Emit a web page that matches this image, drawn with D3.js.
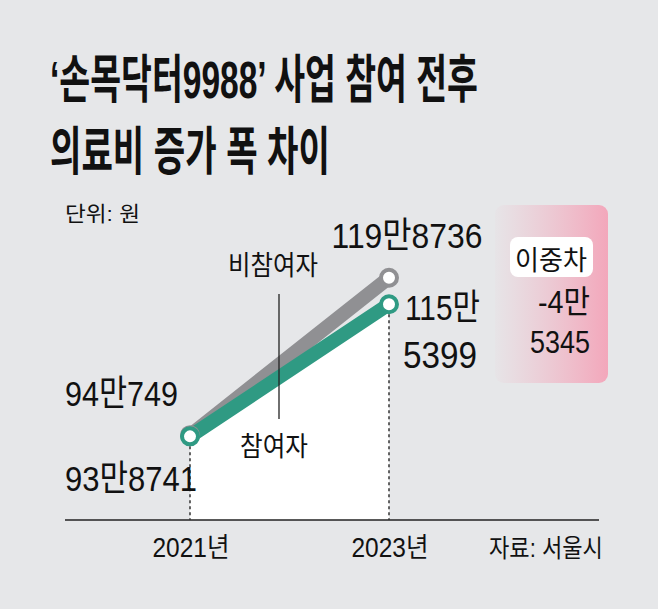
<!DOCTYPE html>
<html>
<head>
<meta charset="utf-8">
<script src="https://cdn.jsdelivr.net/npm/d3@7"></script>
<style>
  html, body { margin: 0; padding: 0; background: #e6e7e9; }
  svg { display: block; }
  text { font-family: "Liberation Sans", "Noto Sans CJK KR", sans-serif; fill: #111; }
</style>
</head>
<body>
<svg width="658" height="609"></svg>
<script>
let years = ["2021년", "2023년"],
    nonPart = [940749, 1198736],
    part = [938741, 1155399];

let nonPartLabels = [["94만749"], ["119만8736"]],
    partLabels = [["93만8741"], ["115만", "5399"]],
    diffLabels = ["-4만", "5345"];

let titleLines = ["‘손목닥터9988’ 사업 참여 전후", "의료비 증가 폭 차이"];

let svg = d3.select("svg"),
    width = +svg.attr("width"),
    height = +svg.attr("height");

let x = d3.scalePoint().domain(years).range([190, 389]),
    y = d3.scaleLinear().domain([800000, 1200000]).range([521, 277]);

let axisY = 520;

// text squeezed horizontally to the width it has in the reference
function label(g, str, px, py, size, len, anchor, weight) {
  let t = g.append("text")
      .attr("x", 0)
      .attr("y", 0)
      .attr("font-size", size)
      .attr("text-anchor", anchor || "start")
      .attr("font-weight", weight || "normal")
      .text(str);
  let sx = 1;
  if (len) sx = len / t.node().getComputedTextLength();
  t.attr("transform", "translate(" + px + "," + py + ") scale(" + sx + ",1)");
  return t;
}

// title
label(svg, titleLines[0], 50, 98, 52, 428, "start", "bold");
label(svg, titleLines[1], 50, 170, 52, 280, "start", "bold");
label(svg, "단위: 원", 65, 221, 21, 75);

// difference box
let defs = svg.append("defs");
let grad = defs.append("linearGradient").attr("id", "pink");
grad.append("stop").attr("offset", "0%").attr("stop-color", "#f1b3c3").attr("stop-opacity", 0.05);
grad.append("stop").attr("offset", "100%").attr("stop-color", "#f3a7bb").attr("stop-opacity", 1);

let box = svg.append("g");
box.append("rect")
    .attr("x", 495).attr("y", 205)
    .attr("width", 113).attr("height", 178)
    .attr("rx", 9)
    .attr("fill", "url(#pink)");
box.append("rect")
    .attr("x", 510).attr("y", 237)
    .attr("width", 83).attr("height", 40)
    .attr("rx", 8)
    .attr("fill", "#fff");
label(box, "이중차", 551, 270, 27, 72, "middle");
label(box, diffLabels[0], 590, 313, 32, 52, "end");
label(box, diffLabels[1], 590, 353, 32, 60, "end");

// white area under participants line
let area = d3.area()
    .x(function(d, i) { return x(years[i]); })
    .y0(axisY)
    .y1(function(d) { return y(d); });

svg.append("path")
    .datum(part)
    .attr("d", area)
    .attr("fill", "#fff");

// axis line
svg.append("line")
    .attr("x1", 65).attr("x2", 599)
    .attr("y1", axisY).attr("y2", axisY)
    .attr("stroke", "#222")
    .attr("stroke-width", 1.6);

// dotted guides
svg.selectAll(".guide")
    .data(years)
  .enter().append("line")
    .attr("class", "guide")
    .attr("x1", function(d) { return x(d); })
    .attr("x2", function(d) { return x(d); })
    .attr("y1", function(d, i) { return y(part[i]) + 10; })
    .attr("y2", axisY)
    .attr("stroke", "#333")
    .attr("stroke-width", 1.5)
    .attr("stroke-dasharray", "3,3");

// lines
let line = d3.line()
    .x(function(d, i) { return x(years[i]); })
    .y(function(d) { return y(d); });

let series = [
  {values: nonPart, color: "#909093"},
  {values: part, color: "#2f9a83"}
];

series.forEach(function(s) {
  svg.append("path")
      .datum(s.values)
      .attr("d", line)
      .attr("fill", "none")
      .attr("stroke", s.color)
      .attr("stroke-width", 14)
      .attr("stroke-linecap", "round");
});

series.forEach(function(s) {
  svg.selectAll(null)
      .data(s.values)
    .enter().append("circle")
      .attr("cx", function(d, i) { return x(years[i]); })
      .attr("cy", function(d) { return y(d); })
      .attr("r", 8)
      .attr("fill", "#fff")
      .attr("stroke", s.color)
      .attr("stroke-width", 4);
});

// value labels
label(svg, nonPartLabels[0][0], x(years[0]) - 12, y(nonPart[0]) - 29, 36, 113, "end");
label(svg, partLabels[0][0], x(years[0]) + 7, y(part[0]) + 55, 36, 132, "end");
label(svg, nonPartLabels[1][0], x(years[1]) + 18, y(nonPart[1]) - 30, 36, 151, "middle");
label(svg, partLabels[1][0], x(years[1]) + 16, y(part[1]) + 16, 36, 75, "start");
label(svg, partLabels[1][1], x(years[1]) + 14, y(part[1]) + 64, 36, 74, "start");

// series name labels
let midX = 279;
label(svg, "비참여자", midX - 6, 275, 27, 90, "middle");
label(svg, "참여자", midX - 5, 456, 27, 68, "middle");
svg.append("line")
    .attr("x1", midX).attr("x2", midX)
    .attr("y1", 294).attr("y2", 419)
    .attr("stroke", "#222")
    .attr("stroke-width", 1.3);

// x labels
years.forEach(function(d) {
  label(svg, d, x(d) + 1, 557, 27, 77, "middle");
});

label(svg, "자료: 서울시", 489, 557, 25, 114);
</script>
</body>
</html>
